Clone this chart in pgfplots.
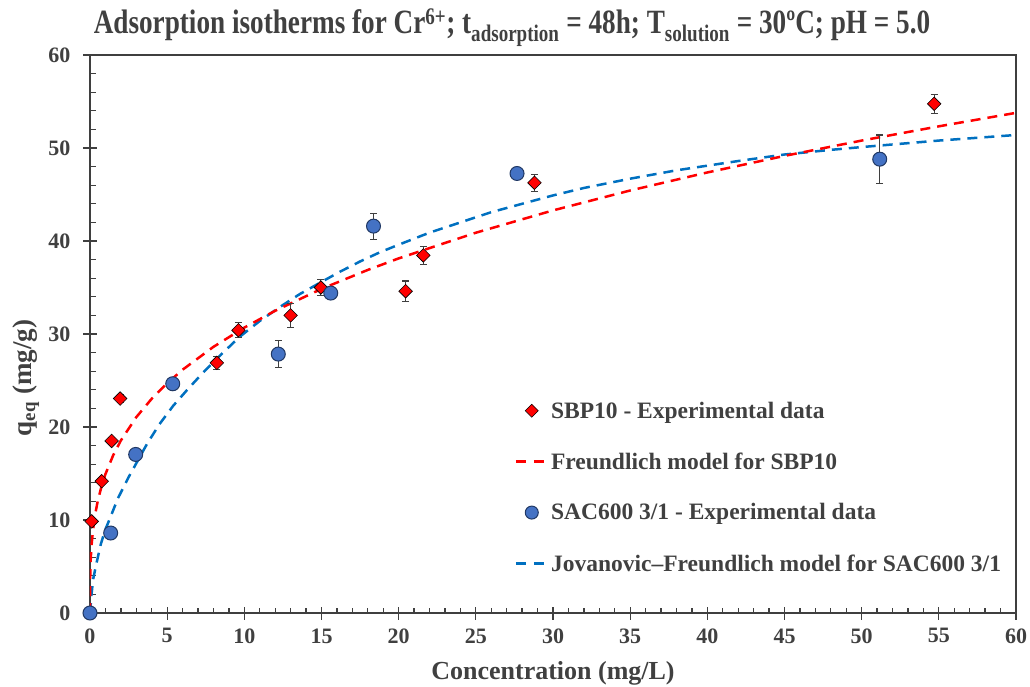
\documentclass[border=0pt]{standalone}
\usepackage{fontspec}
\setmainfont{Liberation Serif}
\newfontfamily\titlefont[FakeStretch=0.8]{Liberation Serif}
\usepackage{pgfplots}
\pgfplotsset{compat=1.18}
\definecolor{textgray}{HTML}{404040}
\definecolor{axisgray}{HTML}{3F3F3F}
\definecolor{myred}{HTML}{FF0000}
\definecolor{mkblue}{HTML}{4472C4}
\definecolor{mkblueedge}{HTML}{203864}
\definecolor{lnblue}{HTML}{0070C0}
\begin{document}
\begin{tikzpicture}
\useasboundingbox (-90pt,-73pt) rectangle (940pt,613pt);
\begin{axis}[
  at={(0pt,0pt)}, anchor=south west,
  scale only axis, width=926pt, height=558pt,
  xmin=0, xmax=60, ymin=0, ymax=60,
  xtick={0,5,...,60}, ytick={0,10,...,60},
  minor x tick num=4, minor y tick num=4,
  tick pos=left,
  axis line style={draw=axisgray, line width=1.6pt},
  every tick/.style={draw=axisgray, line width=1.3pt},
  tick align=inside,
  major tick length=6.5pt, minor tick length=5.5pt,
  extra x ticks={0,5,...,60}, extra x tick labels={},
  extra y ticks={0,10,...,60}, extra y tick labels={},
  extra tick style={tick align=outside},
  /pgf/number format/assume math mode=true,
  ticklabel style={font=\fontsize{22}{22}\selectfont\bfseries, text=textgray},
  xticklabel style={yshift=-12pt},
  yticklabel style={xshift=-16pt},
  xlabel={Concentration (mg/L)},
  ylabel={q\textsubscript{eq} (mg/g)},
  label style={font=\fontsize{26}{26}\selectfont\bfseries, text=textgray},
  xlabel style={yshift=-5pt},
  ylabel style={font=\fontsize{27}{27}\selectfont\bfseries, yshift=-4pt, xshift=-44pt},
  title={\titlefont\bfseries Adsorption isotherms for Cr\textsuperscript{6+}; t\textsubscript{adsorption} = 48h; T\textsubscript{solution} = 30ºC; pH = 5.0},
  title style={font=\fontsize{34}{34}\selectfont, text=textgray, xshift=-41pt, yshift=-1pt},
  legend style={draw=none, fill=none, at={(0.455,0.386)}, anchor=north west,
    font=\fontsize{23.5}{23.5}\selectfont\bfseries, text=textgray, row sep=29pt, column sep=4pt},
  legend cell align=left,
  error bars/error bar style={draw=axisgray, line width=1.2pt},
  error bars/error mark options={rotate=90, draw=axisgray, line width=1.2pt, mark size=3.5pt},
]
% models
\addplot[forget plot, lnblue, line width=2.5pt, dash pattern=on 10pt off 7pt] coordinates {
(0,0) (0.05,1.0) (0.1,2.0) (0.2,3.6) (0.4,5.2) (0.7,7.4) (1.0,9.0) (1.3,10.2) (1.8,12.3)
(2.5,14.6) (3.0,16.1) (3.7,18.2) (4.5,20.3) (5.4,22.3) (6.3,24.0) (7.3,25.8) (8.5,27.8)
(9.7,29.7) (11,31.4) (12.3,32.9) (13.6,34.3) (15,35.6) (16.2,36.7) (17.5,37.8) (18.8,38.8)
(20,39.6) (22,40.9) (24,42.0) (26,43.1) (28,44.0) (30,44.9) (32,45.7) (35,46.7) (38,47.6)
(40,48.1) (42,48.6) (45,49.3) (48,49.8) (50,50.1) (55,50.8) (60,51.4)};
\addplot[forget plot, myred, line width=2.5pt, dash pattern=on 10pt off 7pt] coordinates {
(0,0) (0.0005,1.38) (0.005,2.84) (0.02,4.39) (0.05,5.85) (0.1,7.26) (0.2,9.02) (0.35,10.75)
(0.5,12.02) (0.75,13.64) (1,14.93) (1.5,16.95) (2,18.55) (3,21.06) (4,23.04) (5,24.71)
(6,26.16) (8,28.62) (10,30.69) (12,32.50) (15,34.85) (18,36.89) (20,38.13) (25,40.89)
(30,43.29) (35,45.43) (40,47.37) (45,49.15) (50,50.80) (55,52.33) (60,53.78)};
% SBP10 data
\addplot[forget plot, only marks, mark=square*, mark size=4.8pt,
  mark options={rotate=45, fill=myred, draw=black, line width=0.6pt},
  error bars/.cd, y dir=both, y explicit] table[x=x, y=y, y error=e] {
x y e
0.11 9.85 0
0.76 14.17 0
1.40 18.5 0.4
1.95 23.06 0.4
8.22 26.9 0.7
9.62 30.4 0.8
13.0 32.0 1.3
14.96 35.0 0.9
20.45 34.6 1.1
21.6 38.45 1.0
28.8 46.26 0.9
54.7 54.75 1.0
};
% SAC600 data
\addplot[forget plot, only marks, mark=*, mark size=7pt,
  mark options={fill=mkblue, draw=mkblueedge, line width=1pt},
  error bars/.cd, y dir=both, y explicit] table[x=x, y=y, y error=e] {
x y e
0 0 0
1.34 8.6 0
2.96 17.05 0
5.36 24.65 0.4
12.2 27.84 1.45
15.6 34.4 0
18.37 41.6 1.4
27.67 47.26 0
51.17 48.8 2.6
};
\addlegendimage{legend image code/.code={\path[draw=none] (-6pt,0pt) -- (22pt,0pt); \path[mark=square*, mark size=4.6pt, mark options={rotate=45, fill=myred, draw=black, line width=0.6pt}] plot coordinates {(10pt,0pt)};}}
\addlegendentry{SBP10 - Experimental data}
\addlegendimage{legend image code/.code={\draw[myred, line width=2.5pt, dash pattern=on 10pt off 8pt] (-6pt,0pt) -- (22pt,0pt);}}
\addlegendentry{Freundlich model for SBP10}
\addlegendimage{legend image code/.code={\path[draw=none] (-6pt,0pt) -- (22pt,0pt); \path[mark=*, mark size=6.5pt, mark options={fill=mkblue, draw=mkblueedge, line width=1pt}] plot coordinates {(10pt,0pt)};}}
\addlegendentry{SAC600 3/1 - Experimental data}
\addlegendimage{legend image code/.code={\draw[lnblue, line width=2.5pt, dash pattern=on 10pt off 8pt] (-6pt,0pt) -- (22pt,0pt);}}
\addlegendentry{Jovanovic--Freundlich model for SAC600 3/1}
\end{axis}
\end{tikzpicture}
\end{document}
